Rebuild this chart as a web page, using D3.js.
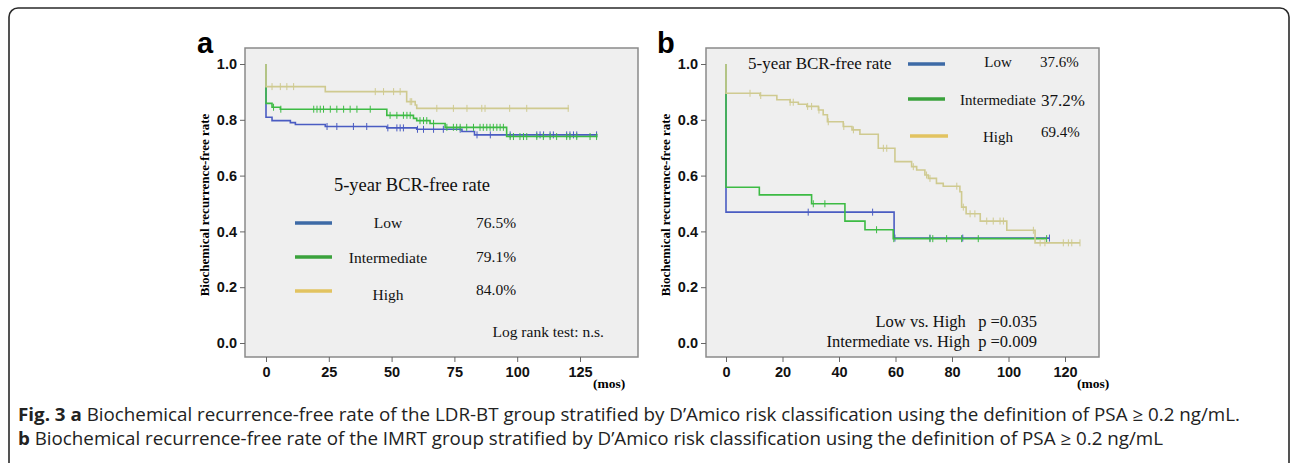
<!DOCTYPE html>
<html>
<head>
<meta charset="utf-8">
<script src="https://cdn.jsdelivr.net/npm/d3@7"></script>
<style>
  body { margin: 0; background: #fff; }
  svg { display: block; }
</style>
</head>
<body>
<div id="chart"></div>
<script>
// step points: [month, survival after that month]
var aLow = [[0, 0.809], [2.4, 0.797], [9.7, 0.790], [11.7, 0.783], [23.6, 0.776], [48.1, 0.771], [60, 0.766], [78, 0.758], [83, 0.746]];
var aLowEnd = 132;
var aLowCens = [24.3, 28.2, 34.8, 40.1, 48.5, 52.1, 53.4, 54.7, 60.3, 62.7, 66.7, 70.6, 77.3, 84, 89.3, 97.2, 107.8, 109.1, 110.5, 113.1, 114.4, 119.7, 121, 122.4, 123.7, 131.6];

var aInt = [[0, 0.859], [2.4, 0.845], [5.7, 0.838], [48.1, 0.816], [58.7, 0.805], [60, 0.797], [65.3, 0.787], [71.3, 0.773], [95.8, 0.740]];
var aIntEnd = 132;
var aIntCens = [3.0, 5.9, 19.0, 20.3, 21.6, 22.9, 25.6, 28.2, 30.9, 33.5, 36.2, 41.5, 49.4, 52.1, 54.7, 56.1, 57.4, 61.3, 62.7, 64.0, 66.7, 72.0, 74.6, 75.9, 77.3, 79.9, 82.6, 85.2, 86.5, 87.9, 89.2, 90.5, 91.9, 93.2, 94.5, 97.2, 98.5, 101.1, 102.5, 103.8, 107.8, 110.4, 113.1, 115.7, 119.7, 121.0, 123.7, 129.0, 131.6];

var aHigh = [[0, 0.919], [23.6, 0.901], [56, 0.865], [59.4, 0.853], [60, 0.841]];
var aHighEnd = 120.6;
var aHighCens = [2.4, 5.7, 8.3, 11, 43.5, 46.8, 50.8, 53.4, 57.4, 58, 68, 74.6, 80, 85.9, 87.2, 97, 103.8, 120.3];

var bLow = [[0, 0.469], [59.5, 0.376]];
var bLowEnd = 114.6;
var bLowCens = [29.1, 51.9, 59.8, 72.2, 83.8, 114.5];

var bInt = [[0, 0.558], [11.8, 0.531], [30.3, 0.499], [42.1, 0.437], [49.2, 0.406], [59.2, 0.374]];
var bIntEnd = 113.5;
var bIntCens = [30.9, 35, 53.3, 59.4, 72.2, 73.2, 78.1, 83.4, 89.3, 113.5];

var bHigh = [[0, 0.895], [12, 0.887], [18, 0.872], [22.7, 0.863], [25.6, 0.856], [28.6, 0.848], [32.7, 0.835], [34.4, 0.818], [35.9, 0.793], [41.5, 0.776], [44.6, 0.764], [47.4, 0.748], [53.9, 0.698], [59.8, 0.650], [65.7, 0.632], [67.5, 0.620], [70.4, 0.602], [71.6, 0.590], [74.5, 0.572], [76.9, 0.562], [82.8, 0.542], [83.4, 0.487], [85, 0.463], [90, 0.437], [99.4, 0.404], [109.4, 0.359]];
var bHighEnd = 125.3;
var bHighCens = [8.5, 12.3, 22.7, 23.8, 28.9, 30.3, 32.9, 36.2, 41.7, 45.1, 55.7, 56.9, 66.3, 71, 72.2, 81.7, 84, 86.4, 88.1, 92.3, 94.6, 97, 98.2, 108.8, 111.2, 112.9, 119.4, 121.2, 122.4, 125.3];

var groups = ['Low', 'Intermediate', 'High'];
var ratesA = ['76.5%', '79.1%', '84.0%'];
var ratesB = ['37.6%', '37.2%', '69.4%'];
var yTicks = [0, 0.2, 0.4, 0.6, 0.8, 1.0];
var xTicksA = [0, 25, 50, 75, 100, 125];
var xTicksB = [0, 20, 40, 60, 80, 100, 120];

var lineColors = ['#4a5cc2', '#3dbb44', '#cfca90'];
var legColors = ['#3d6aa6', '#3aa23c', '#e2c360'];

var svg = d3.select('#chart').append('svg')
    .attr('width', 1292)
    .attr('height', 463);

svg.append('rect')
    .attr('x', 9).attr('y', 8)
    .attr('width', 1280).attr('height', 480)
    .attr('rx', 9)
    .attr('fill', 'none')
    .attr('stroke', '#2a2a2a')
    .attr('stroke-width', 1.6);

var serif = '"Liberation Serif", "DejaVu Serif", serif';
var sans = '"Liberation Sans", Arial, sans-serif';

function panel(opt) {
  var g = svg.append('g');
  var x = d3.scaleLinear().domain([0, opt.xMax]).range(opt.xRange);
  var y = d3.scaleLinear().domain([0, 1]).range([343, 64]);

  g.append('rect')
      .attr('x', opt.box[0]).attr('y', 48)
      .attr('width', opt.box[1] - opt.box[0]).attr('height', 309)
      .attr('fill', '#efefef')
      .attr('stroke', '#8a8a8a')
      .attr('stroke-width', 1.5);

  var ya = g.append('g')
      .attr('transform', 'translate(' + opt.box[0] + ',0)')
      .call(d3.axisLeft(y).tickValues(yTicks).tickFormat(d3.format('.1f')).tickSize(5).tickPadding(3));
  var xa = g.append('g')
      .attr('transform', 'translate(0,357)')
      .call(d3.axisBottom(x).tickValues(opt.xTicks).tickSize(5).tickPadding(5));
  [ya, xa].forEach(function (a) {
    a.select('.domain').remove();
    a.selectAll('line').attr('stroke', '#666');
    a.selectAll('text')
        .attr('fill', '#111')
        .style('font-family', sans)
        .style('font-weight', 'bold')
        .style('font-size', '14.5px');
  });

  var line = d3.line()
      .x(function (d) { return x(d[0]); })
      .y(function (d) { return y(d[1]); })
      .curve(d3.curveStepAfter);

  opt.series.forEach(function (s, i) {
    var pts = [[0, 1.0]].concat(s.steps);
    pts.push([s.end, s.steps[s.steps.length - 1][1]]);
    g.append('path')
        .attr('d', line(pts))
        .attr('fill', 'none')
        .attr('stroke', lineColors[s.c])
        .attr('stroke-width', 1.6);
    function surv(t) {
      var v = 1;
      s.steps.forEach(function (p) { if (p[0] <= t) v = p[1]; });
      return v;
    }
    g.selectAll(null)
        .data(s.cens)
        .enter().append('line')
        .attr('x1', function (d) { return x(d); })
        .attr('x2', function (d) { return x(d); })
        .attr('y1', function (d) { return y(surv(d)) - 3.5; })
        .attr('y2', function (d) { return y(surv(d)) + 3.5; })
        .attr('stroke', lineColors[s.c])
        .attr('stroke-width', 1);
  });

  g.append('text')
      .attr('x', opt.letterX).attr('y', 53)
      .style('font-family', sans).style('font-weight', 'bold').style('font-size', '29px')
      .text(opt.letter);

  g.append('text')
      .attr('transform', 'translate(' + (opt.box[0] - 36) + ',205) rotate(-90)')
      .attr('text-anchor', 'middle')
      .style('font-family', serif).style('font-weight', 'bold').style('font-size', '13px')
      .text('Biochemical recurrence-free rate');

  g.append('text')
      .attr('x', opt.mosX).attr('y', 388)
      .style('font-family', serif).style('font-weight', 'bold').style('font-size', '13.5px')
      .text('(mos)');
  return g;
}

var ga = panel({
  letter: 'a', letterX: 197, box: [245, 638], xRange: [266, 580], xMax: 125, xTicks: xTicksA, mosX: 593,
  series: [
    { steps: aLow, end: aLowEnd, cens: aLowCens, c: 0 },
    { steps: aInt, end: aIntEnd, cens: aIntCens, c: 1 },
    { steps: aHigh, end: aHighEnd, cens: aHighCens, c: 2 }
  ]
});

var gb = panel({
  letter: 'b', letterX: 657, box: [706, 1099], xRange: [726, 1065], xMax: 120, xTicks: xTicksB, mosX: 1077,
  series: [
    { steps: bLow, end: bLowEnd, cens: bLowCens, c: 0 },
    { steps: bInt, end: bIntEnd, cens: bIntCens, c: 1 },
    { steps: bHigh, end: bHighEnd, cens: bHighCens, c: 2 }
  ]
});

function txt(g, x, y, s, size, anchor) {
  return g.append('text')
      .attr('x', x).attr('y', y)
      .attr('text-anchor', anchor || 'start')
      .attr('fill', '#111')
      .style('font-family', serif).style('font-size', size + 'px')
      .style('white-space', 'pre')
      .text(s);
}

// legend a
txt(ga, 412, 191, '5-year BCR-free rate', 18.5, 'middle');
var legYA = [223, 257, 291];
groups.forEach(function (d, i) {
  ga.append('line')
      .attr('x1', 295).attr('x2', 332)
      .attr('y1', legYA[i]).attr('y2', legYA[i])
      .attr('stroke', legColors[i]).attr('stroke-width', 3.5);
  txt(ga, 388, legYA[i] + [5, 6, 9][i], d, 15.5, 'middle');
  txt(ga, 476, legYA[i] + [5, 5, 4][i], ratesA[i], 15.5);
});
txt(ga, 604, 337, 'Log rank test: n.s.', 15.5, 'end');

// legend b
txt(gb, 748, 69, '5-year BCR-free rate', 17);
var legYB = [64, 99, 136];
groups.forEach(function (d, i) {
  gb.append('line')
      .attr('x1', i === 2 ? 910 : 908).attr('x2', i === 2 ? 948 : 945)
      .attr('y1', legYB[i]).attr('y2', legYB[i])
      .attr('stroke', legColors[i]).attr('stroke-width', 3.5);
  txt(gb, 998, legYB[i] + [3, 6, 6][i], d, 15, 'middle');
  txt(gb, [1040, 1041, 1041][i], legYB[i] + [3, 7, 1][i], ratesB[i], [15, 17, 15][i]);
});
txt(gb, 1037, 327, 'Low vs. High   p =0.035', 16.5, 'end');
txt(gb, 1037, 347, 'Intermediate vs. High  p =0.009', 16.5, 'end');

// caption
var capFont = '"Open Sans", "Noto Sans", sans-serif';
var cap1 = svg.append('text')
    .attr('x', 18).attr('y', 421)
    .attr('textLength', 1222).attr('lengthAdjust', 'spacingAndGlyphs')
    .attr('fill', '#222')
    .style('font-family', capFont).style('font-size', '18px');
cap1.append('tspan').style('font-weight', 'bold').text('Fig. 3 a');
cap1.append('tspan').text(' Biochemical recurrence-free rate of the LDR-BT group stratified by D\u2019Amico risk classification using the definition of PSA \u2265 0.2 ng/mL.');

var cap2 = svg.append('text')
    .attr('x', 18).attr('y', 445)
    .attr('textLength', 1145).attr('lengthAdjust', 'spacingAndGlyphs')
    .attr('fill', '#222')
    .style('font-family', capFont).style('font-size', '18px');
cap2.append('tspan').style('font-weight', 'bold').text('b');
cap2.append('tspan').text(' Biochemical recurrence-free rate of the IMRT group stratified by D\u2019Amico risk classification using the definition of PSA \u2265 0.2 ng/mL');
</script>
</body>
</html>
